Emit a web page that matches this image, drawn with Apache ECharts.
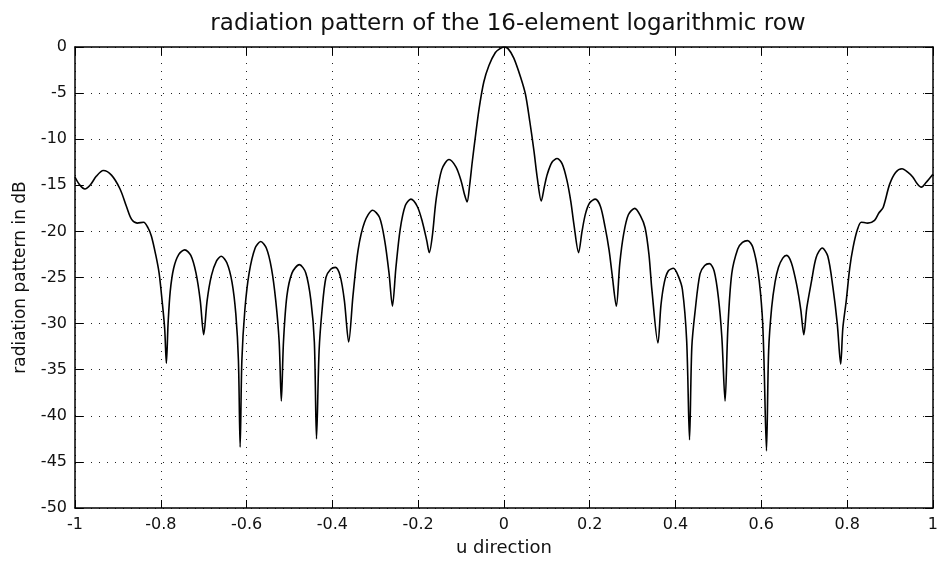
<!DOCTYPE html>
<html>
<head>
<meta charset="utf-8">
<script src="https://cdn.jsdelivr.net/npm/echarts@6/dist/echarts.min.js"></script>
<style>html,body{margin:0;padding:0;background:#fff;}#chart{width:941px;height:564px;}</style>
</head>
<body>
<div id="chart"></div>
<script>
// u direction values (x) and radiation pattern in dB (y)
const uValues = [
 -1.000,-0.990,-0.977,-0.965,-0.950,-0.934,-0.915,-0.895,-0.880,-0.868,-0.855,-0.840,-0.830,-0.822,-0.812,-0.804,-0.797,-0.791,-0.787,-0.783,-0.778,-0.770,-0.758,-0.744,-0.730,-0.718,-0.708,-0.700,-0.692,-0.682,-0.670,-0.659,-0.646,-0.634,-0.625,-0.619,-0.615,-0.611,-0.604,-0.594,-0.580,-0.567,-0.554,-0.542,-0.532,-0.524,-0.519,-0.514,-0.506,-0.494,-0.477,-0.462,-0.450,-0.442,-0.437,-0.431,-0.424,-0.415,-0.404,-0.393,-0.382,-0.372,-0.362,-0.352,-0.340,-0.325,-0.306,-0.290,-0.278,-0.268,-0.260,-0.252,-0.242,-0.230,-0.217,-0.202,-0.190,-0.180,-0.174,-0.167,-0.158,-0.145,-0.128,-0.112,-0.100,-0.092,-0.086,-0.080,-0.074,-0.066,-0.058,-0.047,-0.035,-0.020,-0.010,0.000,
 0.010,0.023,0.039,0.050,0.060,0.070,0.078,0.087,0.094,0.101,0.112,0.124,0.136,0.147,0.156,0.163,0.174,0.182,0.190,0.200,0.213,0.225,0.236,0.245,0.252,0.262,0.270,0.279,0.290,0.305,0.318,0.329,0.338,0.345,0.359,0.366,0.374,0.383,0.395,0.406,0.416,0.426,0.4326,0.438,0.446,0.457,0.468,0.479,0.490,0.500,0.508,0.5155,0.522,0.531,0.545,0.556,0.568,0.580,0.593,0.602,0.606,0.612,0.617,0.624,0.632,0.640,0.650,0.659,0.670,0.682,0.692,0.699,0.706,0.717,0.728,0.742,0.755,0.767,0.777,0.785,0.790,0.798,0.806,0.814,0.824,0.833,0.848,0.864,0.874,0.884,0.899,0.913,0.928,0.942,0.953,0.963,0.973,0.984,1.000
];
const dBValues = [
 -14.1,-14.9,-15.4,-15.0,-14.0,-13.4,-13.9,-15.4,-17.3,-18.7,-19.1,-19.0,-19.6,-20.5,-22.5,-24.5,-27.5,-30.5,-34.3,-30.0,-26.5,-24.0,-22.5,-22.0,-22.6,-24.5,-27.5,-31.2,-27.5,-24.8,-23.2,-22.7,-23.4,-25.5,-29.0,-34.0,-43.4,-34.0,-28.5,-24.5,-21.8,-21.1,-21.8,-24.0,-27.5,-32.0,-38.4,-32.0,-27.0,-24.5,-23.6,-24.5,-27.5,-32.0,-42.5,-33.0,-28.5,-25.0,-24.1,-23.9,-24.8,-27.5,-32.0,-27.0,-22.0,-19.0,-17.7,-18.5,-21.0,-24.5,-28.1,-24.0,-19.8,-17.2,-16.5,-17.3,-19.0,-21.0,-22.3,-20.5,-16.5,-13.3,-12.2,-13.0,-14.5,-16.0,-16.8,-15.0,-12.5,-9.5,-6.7,-3.8,-2.0,-0.6,-0.2,0.0,
 -0.2,-1.2,-3.3,-5.1,-8.0,-11.3,-14.3,-16.7,-15.2,-13.8,-12.5,-12.1,-12.7,-14.5,-16.8,-19.2,-22.3,-20.0,-18.1,-16.9,-16.5,-17.3,-19.6,-22.0,-24.6,-28.1,-23.5,-20.3,-18.2,-17.5,-18.3,-19.6,-22.5,-26.4,-32.1,-28.0,-25.5,-24.3,-24.0,-24.8,-26.3,-31.9,-42.6,-32.5,-28.5,-24.6,-23.7,-23.5,-24.3,-27.2,-31.5,-38.4,-30.5,-24.6,-21.9,-21.2,-21.0,-21.7,-24.6,-29.0,-33.7,-43.8,-33.0,-28.3,-25.5,-23.9,-22.9,-22.6,-23.4,-25.7,-28.5,-31.2,-28.3,-25.4,-22.8,-21.8,-22.7,-26.1,-30.0,-34.4,-30.5,-27.5,-24.0,-21.7,-19.8,-19.0,-19.1,-18.8,-18.0,-17.4,-14.9,-13.6,-13.2,-13.6,-14.1,-14.8,-15.2,-14.7,-13.8
];
const xTicks = [-1,-0.8,-0.6,-0.4,-0.2,0,0.2,0.4,0.6,0.8,1];
const yTicks = [0,-5,-10,-15,-20,-25,-30,-35,-40,-45,-50];

const FONT = 'DejaVu Sans';
const seriesData = uValues.map((u, i) => [u, dBValues[i]]);

const gridLine = {show: true, lineStyle: {color: '#222', width: 1, type: [1, 7]}};
const axLine = {show: true, onZero: false, lineStyle: {color: '#000', width: 1.5}};
const tick = {show: true, inside: true, length: 8, lineStyle: {color: '#000', width: 1}};

const chart = echarts.init(document.getElementById('chart'), null, {renderer: 'canvas'});
chart.setOption({
  animation: false,
  backgroundColor: '#fff',
  title: {
    text: 'radiation pattern of the 16-element logarithmic row',
    left: 503, top: 8, textAlign: 'center',
    textStyle: {fontFamily: FONT, fontSize: 23, fontWeight: 'normal', color: '#111'}
  },
  grid: {left: 75, right: 6, top: 47, bottom: 56, containLabel: false},
  xAxis: [{
    type: 'value', min: -1, max: 1, interval: 0.2, position: 'bottom',
    name: 'u direction', nameLocation: 'middle', nameGap: 31,
    nameTextStyle: {fontFamily: FONT, fontSize: 18, color: '#111'},
    axisLine: axLine, axisTick: tick, splitLine: gridLine,
    axisLabel: {fontFamily: FONT, fontSize: 16, color: '#111', margin: 9,
      formatter: v => { const s = xTicks.find(t => Math.abs(t - v) < 1e-9); return s === undefined ? '' : String(s); }}
  }, {
    type: 'value', min: -1, max: 1, interval: 0.2, position: 'top',
    axisLine: axLine, axisTick: tick, splitLine: {show: false}, axisLabel: {show: false}
  }],
  yAxis: [{
    type: 'value', min: -50, max: 0, interval: 5, position: 'left',
    name: 'radiation pattern in dB', nameLocation: 'middle', nameGap: 46,
    nameTextStyle: {fontFamily: FONT, fontSize: 17, color: '#111'},
    axisLine: axLine, axisTick: tick, splitLine: gridLine,
    axisLabel: {fontFamily: FONT, fontSize: 16, color: '#111', margin: 8,
      formatter: v => { const s = yTicks.find(t => Math.abs(t - v) < 1e-9); return s === undefined ? '' : String(s); }}
  }, {
    type: 'value', min: -50, max: 0, interval: 5, position: 'right',
    axisLine: axLine, axisTick: tick, splitLine: {show: false}, axisLabel: {show: false}
  }],
  series: [{
    type: 'line', data: seriesData, xAxisIndex: 0, yAxisIndex: 0,
    showSymbol: false, smooth: 0.3,
    lineStyle: {color: '#000', width: 1.6}
  }]
});
</script>
</body>
</html>
